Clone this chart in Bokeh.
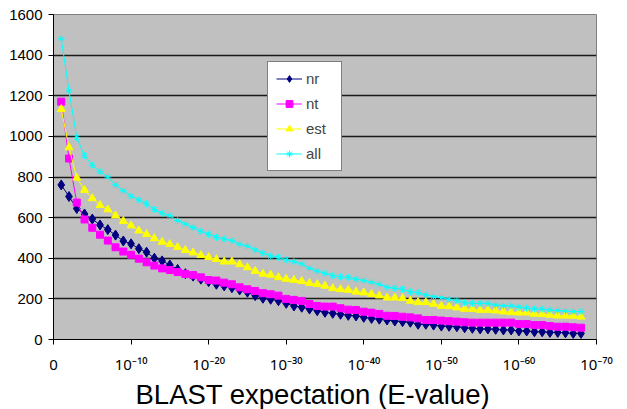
from bokeh.plotting import figure
from bokeh.models import FixedTicker, Legend, LegendItem, Range1d, ColumnDataSource, Title
from bokeh.embed import file_html
from bokeh.resources import INLINE

# E-value exponent (category position: 10^-1 ... 10^-68)
exponent = list(range(1, 69))

nr = [761, 704, 645, 618, 593, 564, 541, 514, 485, 471, 447, 430, 400, 387, 367, 345, 324, 312, 297, 285,
      272, 264, 255, 244, 233, 216, 203, 198, 191, 178, 165, 159, 150, 142, 134, 129, 124, 119, 116, 109,
      104, 100, 96, 91, 88, 85, 75, 75, 71, 66, 65, 63, 58, 55, 52, 52, 50, 47, 47, 42,
      42, 38, 38, 35, 35, 33, 30, 30]
nt = [1171, 891, 674, 591, 550, 516, 487, 454, 433, 417, 398, 380, 364, 350, 342, 332, 323, 317, 306, 293,
      290, 280, 272, 257, 247, 239, 228, 223, 216, 200, 195, 190, 175, 165, 162, 162, 154, 147, 145, 137,
      132, 126, 117, 116, 112, 109, 104, 96, 96, 93, 90, 88, 85, 83, 83, 83, 83, 83, 83, 76,
      76, 71, 71, 66, 63, 63, 60, 58]
est = [1134, 945, 796, 736, 695, 661, 640, 610, 583, 561, 536, 518, 498, 480, 469, 455, 440, 428, 415, 405,
       395, 383, 383, 370, 355, 337, 323, 318, 306, 298, 293, 287, 277, 272, 264, 252, 247, 244, 235, 231,
       223, 216, 206, 206, 203, 190, 183, 183, 175, 165, 163, 157, 150, 149, 145, 145, 142, 137, 134, 132,
       132, 126, 124, 121, 117, 117, 116, 112]
all_ = [1480, 1224, 994, 905, 858, 826, 800, 761, 732, 706, 687, 668, 640, 622, 610, 585, 569, 551, 533, 518,
        503, 495, 487, 469, 460, 441, 425, 411, 405, 392, 383, 372, 351, 337, 326, 314, 309, 306, 297, 290,
        282, 272, 257, 252, 247, 235, 231, 219, 211, 206, 198, 191, 181, 178, 178, 178, 170, 166, 166, 159,
        154, 150, 149, 145, 142, 140, 137, 137]

x_ticks = [0, 10, 20, 30, 40, 50, 60, 70]
x_tick_labels = ["0", "10\u207b\u00b9\u2070", "10\u207b\u00b2\u2070", "10\u207b\u00b3\u2070",
                 "10\u207b\u2074\u2070", "10\u207b\u2075\u2070", "10\u207b\u2076\u2070", "10\u207b\u2077\u2070"]
y_ticks = [0, 200, 400, 600, 800, 1000, 1200, 1400, 1600]
x_title = "BLAST expectation (E-value)"

FONT = "Liberation Sans"

p = figure(width=627, height=409, output_backend="svg", toolbar_location=None,
           x_range=Range1d(0, 70), y_range=Range1d(0, 1600),
           min_border_left=53, min_border_right=31, min_border_top=14, min_border_bottom=0)
p.background_fill_color = "#C0C0C0"
p.border_fill_color = "white"
p.outline_line_color = "#808080"
p.outline_line_width = 1

p.xgrid.visible = False
p.ygrid.ticker = FixedTicker(ticks=y_ticks)
p.ygrid.grid_line_color = "#1a1a1a"
p.ygrid.grid_line_width = 1.3

p.xaxis.ticker = FixedTicker(ticks=x_ticks)
p.xaxis.major_label_overrides = {t: l for t, l in zip(x_ticks, x_tick_labels)}
p.yaxis.ticker = FixedTicker(ticks=y_ticks)
for ax in (p.xaxis[0], p.yaxis[0]):
    ax.axis_line_color = "black"
    ax.axis_line_width = 1
    ax.major_tick_line_color = "black"
    ax.major_tick_out = 5
    ax.major_tick_in = 0
    ax.minor_tick_line_color = None
    ax.major_label_text_color = "black"
p.yaxis.major_label_text_font = FONT
p.yaxis.major_label_text_font_size = "15px"
p.xaxis.major_label_text_font = "Noto Sans"
p.xaxis.major_label_text_font_size = "15px"
p.yaxis.major_label_standoff = 6
p.xaxis.major_label_standoff = 9

title = Title(text=x_title, align="left", offset=82, standoff=0,
              text_font=FONT, text_font_style="normal", text_font_size="27.5px",
              text_color="black")
p.add_layout(title, "below")

src = ColumnDataSource(dict(x=exponent, nr=nr, nt=nt, est=est, all=all_))

series = [
    ("nr", "nr", "#000080", "diamond", 10),
    ("nt", "nt", "#FF00FF", "square", 7),
    ("est", "est", "#FFFF00", "triangle", 8),
    ("all", "all", "#00FFFF", "asterisk", 7),
]
items = []
for col, label, color, marker, size in series:
    ln = p.line("x", col, source=src, line_color=color, line_width=1)
    sc = p.scatter("x", col, source=src, marker=marker, size=size,
                   fill_color=color, line_color=color, line_width=1)
    items.append(LegendItem(label=label, renderers=[ln, sc]))

legend = Legend(items=items, location=(214, 168), background_fill_color="white",
                background_fill_alpha=1.0, border_line_color="black", border_line_width=1,
                label_text_font=FONT, label_text_font_size="15px", glyph_width=26,
                glyph_height=17, label_height=17, label_width=27, spacing=8, padding=8, margin=0,
                label_standoff=4)
p.add_layout(legend, "center")

open("out.html", "w").write(file_html(p, INLINE))
